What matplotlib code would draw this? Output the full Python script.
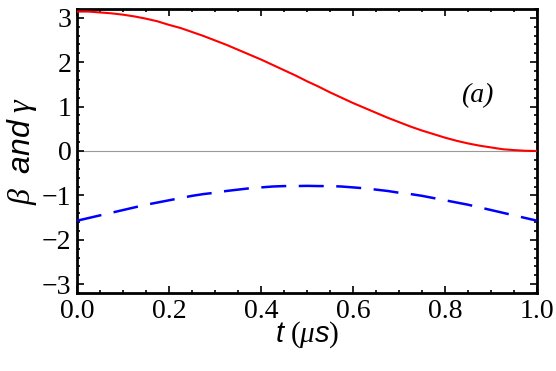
import numpy as np
from matplotlib import pyplot as plt
from matplotlib.ticker import MultipleLocator

# Values.
t = [0.0, 0.025, 0.05, 0.075, 0.1, 0.125, 0.15, 0.175, 0.2, 0.225, 0.25,
	0.275, 0.3, 0.325, 0.35, 0.375, 0.4, 0.425, 0.45, 0.475, 0.5,
	0.525, 0.55, 0.575, 0.6, 0.625, 0.65, 0.675, 0.7, 0.725, 0.75,
	0.775, 0.8, 0.825, 0.85, 0.875, 0.9, 0.925, 0.95, 0.975, 1.0]
beta = [3.14, 3.14, 3.12, 3.10, 3.07, 3.03, 2.98, 2.92, 2.84, 2.77, 2.68,
	2.59, 2.49, 2.39, 2.28, 2.17, 2.06, 1.94, 1.82, 1.70, 1.57,
	1.45, 1.32, 1.20, 1.08, 0.97, 0.86, 0.75, 0.65, 0.55, 0.46,
	0.38, 0.30, 0.23, 0.17, 0.12, 0.08, 0.04, 0.02, 0.005, 0.0]
gamma = [-1.57, -1.51, -1.45, -1.39, -1.33, -1.27, -1.21, -1.16, -1.11, -1.06, -1.01,
	-0.97, -0.94, -0.90, -0.87, -0.84, -0.82, -0.80, -0.79, -0.79, -0.785,
	-0.79, -0.79, -0.80, -0.82, -0.84, -0.87, -0.90, -0.94, -0.97, -1.01,
	-1.06, -1.11, -1.16, -1.21, -1.27, -1.33, -1.39, -1.45, -1.51, -1.57]
x_ticks = [0.0, 0.2, 0.4, 0.6, 0.8, 1.0]
y_ticks = [-3, -2, -1, 0, 1, 2, 3]

plt.rcParams['mathtext.fontset'] = 'custom'
plt.rcParams['mathtext.rm'] = 'Liberation Serif'
plt.rcParams['mathtext.it'] = 'Liberation Serif:italic'
plt.rcParams['mathtext.sf'] = 'Liberation Sans:italic'

fig = plt.figure(figsize=(5.56, 3.71), dpi=100)
ax = fig.add_axes([0.1385, 0.21, 0.8275, 0.766])

ax.axhline(0, color='#999999', linewidth=0.8, zorder=1)
ax.plot(t, beta, color='#ff0000', linewidth=1.5, zorder=3)
ax.plot(t, gamma, color='#0000ff', linewidth=1.8, dashes=(10, 5), zorder=3)

ax.set_xlim(0, 1)
ax.set_ylim(-3.2, 3.2)
ax.set_xticks(x_ticks)
ax.set_xticklabels(["%.1f" % v for v in x_ticks])
ax.set_yticks(y_ticks)
ax.set_yticklabels([str(v).replace('-', '\u2212') for v in y_ticks])
ax.xaxis.set_minor_locator(MultipleLocator(0.05))
ax.yaxis.set_minor_locator(MultipleLocator(0.2))
ax.tick_params(which='both', direction='in', top=True, right=True, width=1.2)
ax.tick_params(which='major', length=5, pad=4)
ax.tick_params(which='minor', length=2.5)
for lab in ax.get_xticklabels() + ax.get_yticklabels():
	lab.set_family('Liberation Serif')
	lab.set_fontsize(20)
for s in ax.spines.values():
	s.set_linewidth(2)

ax.set_xlabel(r'$\mathsf{t}\ \mathrm{(}\mathit{\mu}\mathsf{s}\mathrm{)}$',
	fontsize=21, labelpad=-3)
ax.set_ylabel(r'$\mathit{\beta}\ \ \mathsf{and}\ \mathit{\gamma}$',
	fontsize=23, labelpad=2)
ax.text(0.87, 1.25, '(a)', family='Liberation Serif', style='italic',
	fontsize=20, ha='center', va='center')

fig.savefig('out.png', dpi=100)
